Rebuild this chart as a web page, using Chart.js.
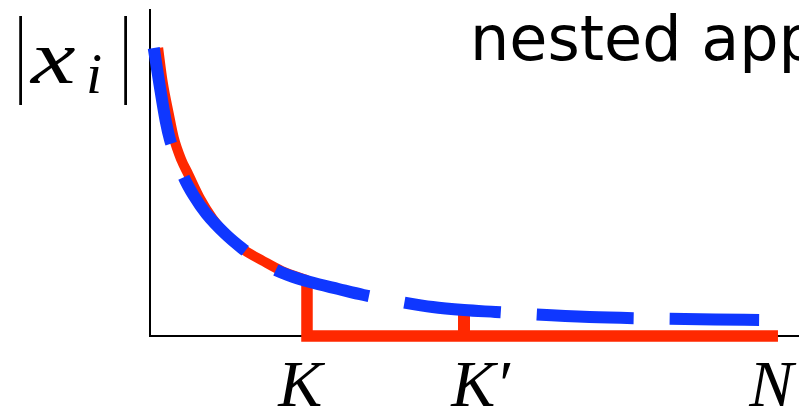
<!DOCTYPE html>
<html>
<head>
<meta charset="utf-8">
<title>nested approximation</title>
<script src="https://cdn.jsdelivr.net/npm/chart.js@4.4.1/dist/chart.umd.min.js"></script>
<style>
  html, body { margin: 0; padding: 0; background: #fff; overflow: hidden; }
  #wrap { width: 799px; height: 411px; position: relative; }
</style>
</head>
<body>
<div id="wrap"><canvas id="decayChart"></canvas></div>
<script>
// sorted magnitudes |x_i| against the index i
const refX = [0.6, 1.5, 2.5, 3.2, 4, 5.3, 7, 9, 12, 14.6, 17, 19.4, 22, 25.5, 30, 34, 40, 45, 50, 55, 60, 70, 80, 90, 97];
const refY = [288, 252, 215, 196, 182, 160, 140, 122, 102, 88, 77, 68, 61, 54, 47, 41, 34, 29, 26, 24, 22, 19, 17.5, 16.5, 16];

const keptX = [1.3, 2, 3, 3.8, 5, 6, 8, 10, 12, 15, 18, 21, 25];
const keptY = [288, 255, 222, 198, 176, 163, 137, 117, 102, 86, 75, 65, 56];

// truncation indices on the x axis
const tickValues = [25, 50, 100];
const tickLabels = ['K\u2009', '\u2002K\u2032', 'N\u2009'];

const K = tickValues[0], K2 = tickValues[1], N = tickValues[2];
const kHeight = keptY[keptY.length - 1];
const k2Height = refY[refX.indexOf(K2)];

const blue = '#0f37ff';
const red = '#ff2800';

const serifItalic = size => 'italic ' + size + 'px "Liberation Serif"';
const labelFonts = [serifItalic(76), serifItalic(58), '56px "Liberation Serif"', '62px "DejaVu Sans"'];

const toPoints = (xs, ys) => xs.map((x, i) => ({ x: x, y: ys[i] }));

// y label |x_i| and the title, drawn straight on the canvas
const annotations = {
  id: 'annotations',
  beforeInit(chart) {
    // touch the fonts once so the first paint already uses them
    labelFonts.forEach(f => { chart.ctx.font = f; chart.ctx.measureText('x|i'); });
  },
  afterDraw(chart) {
    const ctx = chart.ctx;
    ctx.save();
    ctx.fillStyle = '#000';
    ctx.textBaseline = 'alphabetic';
    ctx.textAlign = 'left';

    // stretched bars, like \left| ... \right|
    ctx.font = labelFonts[2];
    [15, 120].forEach(bx => {
      ctx.save();
      ctx.translate(bx, 83.5);
      ctx.scale(1, 1.75);
      ctx.fillText('|', 0, 0);
      ctx.restore();
    });
    ctx.font = labelFonts[0];
    ctx.save();
    ctx.translate(31, 83);
    ctx.scale(1.32, 1);
    ctx.fillText('x', 0, 0);
    ctx.restore();
    ctx.font = labelFonts[1];
    ctx.fillText('i', 86, 93);

    ctx.font = labelFonts[3];
    ctx.fillText('nested approximation', 470, 60);
    ctx.restore();
  }
};

const ctx = document.getElementById('decayChart').getContext('2d');
const decayChart = new Chart(ctx, {
  type: 'line',
  data: {
    datasets: [
      {
        // dashed reference curve, kept on top
        data: toPoints(refX, refY),
        borderColor: blue,
        borderWidth: 12,
        borderDash: [97, 36],
        borderCapStyle: 'butt',
        cubicInterpolationMode: 'monotone',
        pointRadius: 0,
        clip: false
      },
      {
        data: toPoints(keptX, keptY),
        borderColor: red,
        borderWidth: 10,
        cubicInterpolationMode: 'monotone',
        pointRadius: 0,
        clip: false
      },
      {
        // drop at K then flat to N
        data: [{ x: K, y: kHeight }, { x: K, y: 0 }, { x: N, y: 0 }],
        borderColor: red,
        borderWidth: 11.5,
        borderJoinStyle: 'miter',
        borderCapStyle: 'butt',
        tension: 0,
        pointRadius: 0,
        clip: false
      },
      {
        data: [{ x: K2, y: 0 }, { x: K2, y: k2Height }],
        borderColor: red,
        borderWidth: 12,
        borderCapStyle: 'butt',
        tension: 0,
        pointRadius: 0,
        clip: false
      }
    ]
  },
  options: {
    responsive: true,
    maintainAspectRatio: false,
    animation: false,
    layout: { padding: { left: 150, top: 10, right: 0, bottom: -31 } },
    plugins: {
      legend: { display: false },
      tooltip: { enabled: false }
    },
    scales: {
      x: {
        type: 'linear',
        min: 0,
        max: 103.35,
        afterBuildTicks: axis => { axis.ticks = tickValues.map(v => ({ value: v })); },
        afterFit: axis => { axis.paddingLeft = 0; axis.paddingRight = 0; },
        ticks: {
          autoSkip: false,
          maxRotation: 0,
          padding: 23,
          color: '#000',
          font: { family: '"Liberation Serif"', style: 'italic', size: 66, lineHeight: 0.909 },
          callback: (value, index) => tickLabels[index]
        },
        grid: { display: false, drawTicks: false },
        border: { display: true, color: '#000', width: 2 }
      },
      y: {
        min: 0,
        max: 326,
        ticks: { display: false },
        grid: { display: false, drawTicks: false },
        border: { display: true, color: '#000', width: 2 }
      }
    }
  },
  plugins: [annotations]
});

Promise.all(labelFonts.map(f => document.fonts.load(f))).then(() => decayChart.draw());
</script>
</body>
</html>
